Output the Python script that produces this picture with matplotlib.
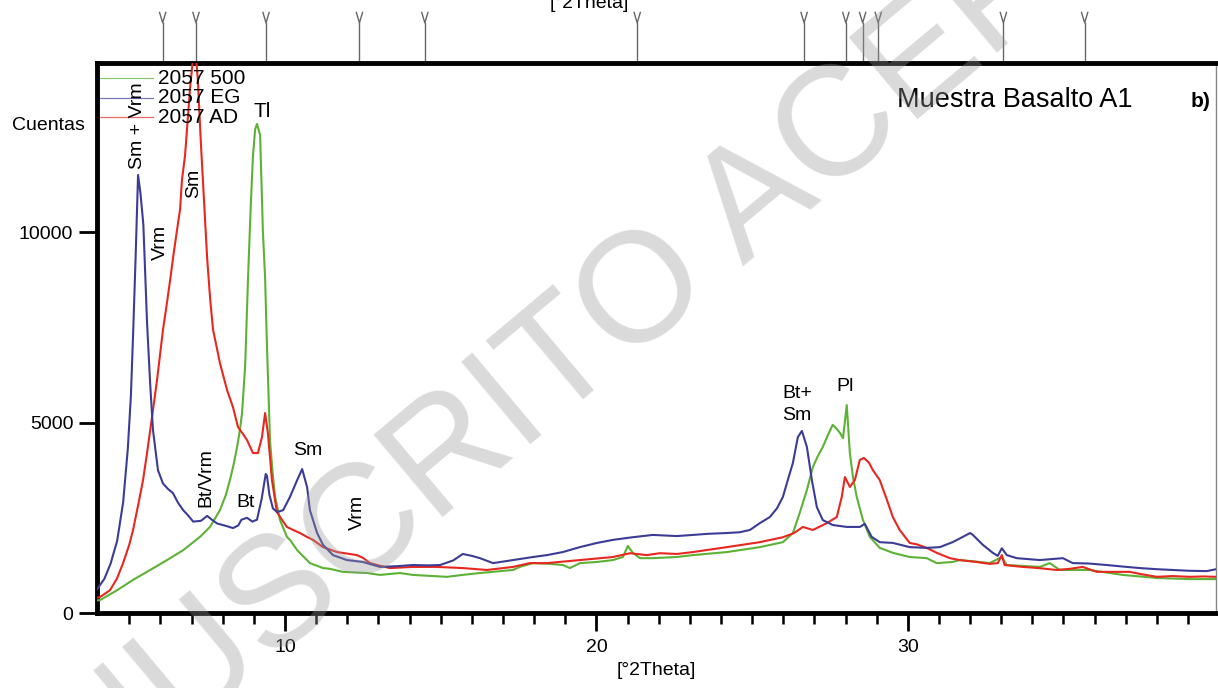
import numpy as np
import matplotlib
matplotlib.use('Agg')
from matplotlib import pyplot as plt
import matplotlib.transforms as mtransforms

plt.rcParams['font.family'] = ['Liberation Sans', 'DejaVu Sans']

# 2057 EG (glicolada)
x_eg = [3.96, 4.2, 4.4, 4.61, 4.8, 4.95, 5.05, 5.12, 5.2, 5.28, 5.36, 5.45, 5.57, 5.67, 5.76,
        5.92, 6.08, 6.25, 6.40, 6.56, 6.73, 6.9, 7.05, 7.3, 7.50, 7.65, 7.82, 8.05, 8.33, 8.5,
        8.6, 8.78, 8.95, 9.10, 9.25, 9.38, 9.42, 9.5, 9.61, 9.74, 9.94, 10.16, 10.39, 10.55,
        10.71, 10.80, 11.03, 11.22, 11.54, 11.99, 12.5, 13.05, 13.6, 14.11, 14.6, 14.98, 15.4,
        15.71, 16.0, 16.26, 16.68, 17.0, 17.32, 17.96, 18.41, 18.92, 19.47, 20.02, 20.53, 21.17,
        21.81, 22.58, 23.1, 23.6, 24.19, 24.6, 24.93, 25.25, 25.57, 25.8, 25.99, 26.15, 26.31,
        26.47, 26.6, 26.76, 26.92, 27.08, 27.27, 27.59, 28.04, 28.46, 28.62, 28.84, 29.1, 29.52,
        30.06, 30.61, 31.03, 31.44, 31.77, 32.0, 32.09, 32.41, 32.73, 32.89, 33.02, 33.18, 33.5,
        34.24, 34.98, 35.3, 35.8, 36.39, 36.9, 37.45, 38.0, 38.51, 39.0, 39.6, 39.9]
y_eg = [620, 900, 1300, 1900, 2900, 4300, 5700, 7300, 9300, 11500, 11000, 10200, 7600, 6000, 4800,
        3750, 3400, 3250, 3150, 2900, 2700, 2550, 2400, 2420, 2550, 2450, 2350, 2300, 2230, 2300,
        2450, 2500, 2400, 2450, 3000, 3650, 3600, 3100, 2750, 2650, 2700, 3050, 3490, 3780,
        3300, 2700, 2100, 1790, 1520, 1390, 1340, 1210, 1230, 1260, 1250, 1260, 1380,
        1550, 1500, 1440, 1310, 1350, 1390, 1470, 1520, 1600, 1730, 1840, 1920, 1990,
        2050, 2020, 2050, 2080, 2100, 2120, 2180, 2360, 2520, 2750, 3050, 3500, 3940,
        4620, 4780, 4360, 3490, 2780, 2440, 2310, 2260, 2260, 2340, 2000, 1860, 1840,
        1730, 1710, 1730, 1860, 2000, 2100, 2050, 1790, 1580, 1500, 1700, 1520, 1440,
        1390, 1440, 1310, 1300, 1260, 1220, 1180, 1150, 1130, 1110, 1100, 1150]

# 2057 AD (secada al aire)
x_ad = [3.96, 4.06, 4.38, 4.6, 4.8, 5.0, 5.12, 5.3, 5.44, 5.56, 5.67, 5.78, 5.89, 6.08, 6.20,
        6.31, 6.40, 6.53, 6.63, 6.69, 6.79, 6.95, 7.05, 7.12, 7.2, 7.3, 7.4, 7.5, 7.6, 7.69,
        7.8, 7.91, 8.14, 8.33, 8.49, 8.65, 8.78, 8.97, 9.13, 9.26, 9.36, 9.45, 9.58, 9.74, 9.9,
        10.06, 10.26, 10.48, 10.7, 10.9, 11.22, 11.67, 12.0, 12.31, 12.5, 12.73, 13.0, 13.37,
        14.11, 14.88, 15.71, 16.48, 17.32, 17.86, 18.41, 19.47, 20.53, 21.08, 21.62, 22.04,
        22.58, 23.1, 24.19, 25.25, 25.99, 26.35, 26.63, 26.95, 27.4, 27.72, 27.88, 27.98, 28.14,
        28.3, 28.46, 28.59, 28.75, 28.88, 29.1, 29.33, 29.52, 29.74, 30.06, 30.3, 30.61, 30.93,
        31.35, 31.67, 32.2, 32.63, 32.89, 33.02, 33.11, 33.69, 34.2, 34.78, 35.2, 35.62, 36.07,
        36.6, 37.13, 37.5, 37.99, 38.5, 39.05, 39.5, 39.9]
y_ad = [400, 420, 600, 900, 1310, 1800, 2180, 2900, 3490, 4150, 4800, 5450, 6120, 7430, 8100,
        8740, 9300, 10050, 10600, 11370, 12020, 13780, 14600, 14800, 14000, 12300, 10800, 9300, 8200, 7430,
        7000, 6560, 5850, 5400, 4880, 4700, 4540, 4200, 4200, 4620, 5250, 4720, 3490, 2650, 2450,
        2260, 2180, 2100, 2000, 1920, 1730, 1600, 1560, 1520, 1450, 1310, 1250, 1180,
        1210, 1210, 1180, 1130, 1210, 1310, 1310, 1390, 1470, 1570, 1520, 1570,
        1550, 1600, 1730, 1860, 1990, 2100, 2260, 2180, 2360, 2520, 3050, 3570, 3310,
        3490, 4020, 4070, 3950, 3750, 3490, 2970, 2520, 2180, 1840, 1800, 1710, 1580,
        1440, 1390, 1340, 1290, 1310, 1520, 1260, 1210, 1180, 1130, 1160, 1210, 1080,
        1080, 1080, 1020, 950, 970, 950, 960, 950]

# 2057 500 (calentada 500 C)
x_500 = [3.96, 4.06, 4.61, 5.12, 5.67, 6.21, 6.73, 7.27, 7.59, 7.91, 8.1, 8.23, 8.35, 8.46, 8.55,
         8.62, 8.72, 8.81, 8.9, 8.97, 9.04, 9.1, 9.2, 9.29, 9.36, 9.42, 9.48, 9.52, 9.6, 9.68,
         9.84, 10.06, 10.16, 10.39, 10.8, 11.22, 11.44, 11.86, 12.63, 13.05, 13.69, 14.11, 15.2,
         15.7, 16.26, 17.32, 17.54, 17.96, 18.5, 18.92, 19.15, 19.47, 20.02, 20.53, 20.85, 21.01,
         21.17, 21.4, 21.81, 22.58, 23.1, 24.19, 25.25, 25.99, 26.31, 26.53, 26.76, 26.95, 27.1,
         27.27, 27.45, 27.59, 27.7, 27.82, 27.92, 28.04, 28.14, 28.24, 28.36, 28.56, 28.78, 29.1,
         29.52, 30.06, 30.61, 30.93, 31.44, 31.67, 32.2, 32.63, 33.02, 33.18, 34.24, 34.56, 34.88,
         35.84, 36.9, 37.99, 39.05, 39.9]
y_500 = [330, 340, 600, 870, 1130, 1390, 1650, 2000, 2260, 2700, 3100, 3490, 3900, 4360, 4800,
         5250, 6500, 8740, 10700, 12000, 12700, 12840, 12550, 10000, 8800, 7000, 5500, 4500, 3700, 3050,
         2440, 2000, 1920, 1650, 1310, 1180, 1160, 1080, 1050, 1000, 1050, 1000, 950,
         1000, 1050, 1130, 1210, 1310, 1290, 1260, 1180, 1310, 1340, 1390, 1470, 1760,
         1580, 1440, 1440, 1470, 1520, 1600, 1730, 1860, 2100, 2630, 3230, 3830, 4100,
         4360, 4700, 4940, 4850, 4730, 4590, 5460, 4200, 3570, 3050, 2440, 2000, 1710,
         1580, 1470, 1440, 1310, 1340, 1390, 1350, 1310, 1470, 1260, 1210, 1310, 1130,
         1130, 1000, 920, 890, 890]

# picos de referencia (marcas superiores)
ref_peaks = [6.07, 7.14, 9.39, 12.39, 14.49, 21.31, 26.67, 28.01, 28.55, 29.05, 33.07, 35.68]

series_names = ['2057 500', '2057 EG', '2057 AD']
c_green = '#5db236'
c_blue = '#3c3c96'
c_red = '#e8271f'

fig = plt.figure(figsize=(12.18, 6.88), dpi=100)
ax = fig.add_axes([0.0796, 0.109, 0.9188, 0.7994])

ax.plot(x_500, y_500, color=c_green, lw=1.5, zorder=3)
ax.plot(x_ad, y_ad, color=c_red, lw=1.5, zorder=3)
ax.plot(x_eg, y_eg, color=c_blue, lw=1.5, zorder=4)

ax.set_xlim(3.96, 39.9)
ax.set_ylim(0, 14440)
ax.set_xticks([10, 20, 30])
ax.set_xticks(np.arange(5, 40, 1), minor=True)
ax.set_yticks([0, 5000, 10000])
ax.tick_params(axis='x', which='major', direction='out', length=13, width=2, labelsize=14, pad=6)
ax.tick_params(axis='x', which='minor', direction='out', length=8, width=1.8)
ax.tick_params(axis='y', direction='out', length=13, width=2, labelsize=14, pad=4)
ax.tick_params(top=False, right=False)
for s in ['left', 'bottom', 'top']:
    ax.spines[s].set_linewidth(3.5)
ax.spines['right'].set_linewidth(1)
ax.spines['right'].set_color('#888888')

ax.set_xlabel('[°2Theta]', fontsize=14, labelpad=4)
fig.text(0.0099, 0.817, 'Cuentas', fontsize=14, va='center', ha='left')
fig.text(0.484, 0.988, '[°2Theta]', fontsize=14, va='baseline', ha='center')

# marcas de picos de referencia sobre el eje superior
trans = mtransforms.blended_transform_factory(ax.transData, ax.transAxes)
for p in ref_peaks:
    ax.plot([p, p], [1.0, 1.073], color='#666666', lw=1, transform=trans, clip_on=False)
    ax.plot([p - 0.1, p, p + 0.1], [1.092, 1.073, 1.092], color='#666666', lw=1,
            transform=trans, clip_on=False)

# leyenda
leg_colors = [c_green, c_blue, c_red]
leg_y = [0.9727, 0.9364, 0.9018]
for name, col, yy in zip(series_names, leg_colors, leg_y):
    ax.plot([0.0, 0.05], [yy, yy], color=col, lw=0.9, alpha=0.7, transform=ax.transAxes)
    ax.text(0.0545, yy, name, fontsize=15, va='center', ha='left', transform=ax.transAxes,
            zorder=5)

# etiquetas de minerales
ax.text(5.25, 11650, 'Sm + Vrm', rotation=90, fontsize=14, ha='center', va='bottom')
ax.text(5.99, 9270, 'Vrm', rotation=90, fontsize=14, ha='center', va='bottom')
ax.text(7.06, 10900, 'Sm', rotation=90, fontsize=14, ha='center', va='bottom')
ax.text(9.26, 13020, 'Tl', fontsize=15, ha='center', va='baseline')
ax.text(7.45, 2790, 'Bt/Vrm', rotation=90, fontsize=14, ha='center', va='bottom')
ax.text(8.72, 2790, 'Bt', fontsize=14, ha='center', va='baseline')
ax.text(10.74, 4150, 'Sm', fontsize=14, ha='center', va='baseline')
ax.text(12.31, 2180, 'Vrm', rotation=90, fontsize=14, ha='center', va='bottom')
ax.text(26.44, 5640, 'Bt+', fontsize=14, ha='center', va='baseline')
ax.text(26.44, 5070, 'Sm', fontsize=14, ha='center', va='baseline')
ax.text(27.98, 5830, 'Pl', fontsize=14, ha='center', va='baseline')
ax.text(0.715, 0.92, 'Muestra Basalto A1', fontsize=19.5, ha='left', va='baseline',
        transform=ax.transAxes)
ax.text(0.977, 0.92, 'b)', fontsize=15, fontweight='bold', ha='left', va='baseline',
        transform=ax.transAxes)

# marca de agua
fig.text(0.515, 0.55, 'MANUSCRITO ACEPTADO', fontsize=112, rotation=40, color='#999999',
         alpha=0.36, ha='center', va='center', zorder=10)

fig.savefig('out.png', dpi=100)
